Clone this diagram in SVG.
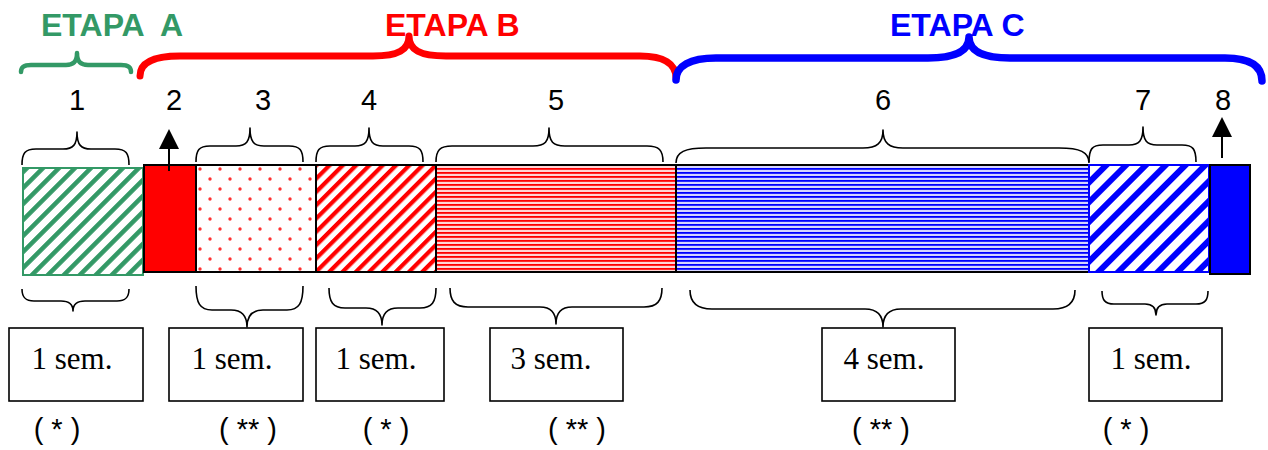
<svg xmlns="http://www.w3.org/2000/svg" width="1268" height="450" viewBox="0 0 1268 450">
<style>
.stage{font-family:"Liberation Sans",Arial,sans-serif;font-weight:bold;font-size:32px}
.num{font-family:"Liberation Sans",Arial,sans-serif;font-size:29px;text-anchor:middle;fill:#000}
.note{font-family:"Liberation Sans",Arial,sans-serif;font-size:29px;text-anchor:middle;fill:#000}
.dur{font-family:"Liberation Serif","Times New Roman",serif;font-size:31px;text-anchor:middle;fill:#000}
.brace{fill:none;stroke:#000;stroke-width:1.6;stroke-linejoin:round}
.bigbrace{fill:none;stroke-linecap:round;stroke-linejoin:round}
.box{fill:#fff;stroke:#000;stroke-width:1.6}
.seg{stroke:#000;stroke-width:2}
.arrow{stroke:#000;stroke-width:2;fill:none}
</style>
<defs>
<pattern id="pGreen" patternUnits="userSpaceOnUse" width="11.3" height="20" patternTransform="rotate(45)">
<rect width="11.3" height="20" fill="#fff"/><rect x="0" width="4.6" height="20" fill="#339966"/>
</pattern>
<pattern id="pRedDiag" patternUnits="userSpaceOnUse" width="9.4" height="20" patternTransform="rotate(45)">
<rect width="9.4" height="20" fill="#fff"/><rect x="0" width="4.2" height="20" fill="#ff0000"/>
</pattern>
<pattern id="pBlueDiag" patternUnits="userSpaceOnUse" width="14" height="20" patternTransform="rotate(45)">
<rect width="14" height="20" fill="#fff"/><rect x="0" width="6" height="20" fill="#0000ff"/>
</pattern>
<pattern id="pDots" patternUnits="userSpaceOnUse" x="196" y="164" width="20" height="20">
<rect width="20" height="20" fill="#fff"/>
<circle cx="4" cy="5" r="1.7" fill="#ff3030"/>
<circle cx="14" cy="15" r="1.7" fill="#ff3030"/>
</pattern>
<pattern id="pRedH" patternUnits="userSpaceOnUse" width="20" height="4">
<rect width="20" height="4" fill="#ffd6d6"/><rect y="0" width="20" height="1.8" fill="#ff0000"/>
</pattern>
<pattern id="pBlueH" patternUnits="userSpaceOnUse" width="20" height="4">
<rect width="20" height="4" fill="#d6d6ff"/><rect y="0" width="20" height="1.8" fill="#0000ff"/>
</pattern>
<marker id="head" markerUnits="userSpaceOnUse" markerWidth="20" markerHeight="20" refX="0" refY="10" orient="auto">
<path d="M0,0 L20,10 L0,20 z" fill="#000"/>
</marker>
</defs>
<rect width="1268" height="450" fill="#fff"/>

<g id="etapa-a">
<path class="bigbrace" stroke="#339966" stroke-width="4.5" d="M21,72 C21,67 24,65 31,65 L66,65 C73,65 77,62 77,53 C77,62 81,65 88,65 L121,65 C128,65 131,67 131,72"/>
<text class="stage" x="41" y="36" fill="#339966" xml:space="preserve">ETAPA  A</text>
</g>
<g id="etapa-b">
<path class="bigbrace" stroke="#ff0000" stroke-width="7" d="M140,76 C140,63 153,56 180,56 L373,56 C398,56 409,50 409,36 C409,50 420,56 446,56 L640,56 C664,56 676,64 676,78"/>
<text class="stage" x="385" y="36" fill="#ff0000">ETAPA B</text>
</g>
<g id="etapa-c">
<path class="bigbrace" stroke="#0000ff" stroke-width="7.5" d="M676,80 C676,66 690,58 716,58 L928,58 C955,58 969,51 969,37 C969,51 983,58 1010,58 L1225,58 C1250,58 1262,66 1262,81"/>
<text class="stage" x="890" y="36" fill="#0000ff">ETAPA C</text>
</g>

<g id="seg1">
<rect x="23" y="168" width="120" height="107" fill="url(#pGreen)" stroke="#339966" stroke-width="2"/>
<text class="num" x="77" y="110">1</text>
<path class="brace" d="M22,165 C22,153 25,149 36,149 L63,149 C73,149 77,145 77,132 C77,145 81,149 91,149 L115,149 C126,149 129,153 129,165"/>
<path class="brace" d="M22,289 C22,297 25,301 34,301 L61,301 C69,301 73,304 73,311 C73,304 77,301 85,301 L117,301 C126,301 129,297 129,289"/>
<rect class="box" x="9" y="328" width="134" height="73"/>
<text class="dur" x="72" y="369">1 sem.</text>
<text class="note" x="57" y="439" xml:space="preserve">( * )</text>
</g>
<g id="seg2">
<rect class="seg" x="144" y="165" width="52" height="107" fill="#ff0000"/>
<text class="num" x="174" y="110">2</text>
</g>
<g id="seg3">
<rect class="seg" x="196" y="165" width="120" height="107" fill="url(#pDots)"/>
<text class="num" x="263" y="110">3</text>
<path class="brace" d="M196,162 C196,150 199,146 210,146 L236,146 C246,146 250,142 250,128 C250,142 254,146 264,146 L289,146 C300,146 303,150 303,162"/>
<path class="brace" d="M196,286 C196,303 200,310 212,310 L231,310 C242,310 247,316 247,327 C247,316 252,310 263,310 L287,310 C299,310 303,303 303,286"/>
<rect class="box" x="169" y="328" width="134" height="73"/>
<text class="dur" x="232" y="369">1 sem.</text>
<text class="note" x="248" y="439" xml:space="preserve">( ** )</text>
</g>
<g id="seg4">
<rect class="seg" x="316" y="165" width="120" height="107" fill="url(#pRedDiag)"/>
<text class="num" x="369" y="110">4</text>
<path class="brace" d="M316,162 C316,150 319,146 330,146 L355,146 C365,146 369,142 369,128 C369,142 373,146 383,146 L409,146 C420,146 423,150 423,162"/>
<path class="brace" d="M329,288 C329,302 333,308 345,308 L366,308 C377,308 382,314 382,325 C382,314 387,308 398,308 L420,308 C432,308 436,302 436,288"/>
<rect class="box" x="316" y="328" width="128" height="73"/>
<text class="dur" x="376" y="369">1 sem.</text>
<text class="note" x="386" y="439" xml:space="preserve">( * )</text>
</g>
<g id="seg5">
<rect class="seg" x="436" y="165" width="240" height="107" fill="url(#pRedH)"/>
<text class="num" x="556" y="110">5</text>
<path class="brace" d="M436,162 C436,150 440,146 452,146 L533,146 C545,146 549,142 549,128 C549,142 553,146 565,146 L647,146 C659,146 663,150 663,162"/>
<path class="brace" d="M450,288 C450,301 455,307 468,307 L540,307 C551,307 556,313 556,324 C556,313 561,307 572,307 L644,307 C657,307 662,301 662,288"/>
<rect class="box" x="490" y="328" width="133" height="73"/>
<text class="dur" x="551" y="369">3 sem.</text>
<text class="note" x="577" y="439" xml:space="preserve">( ** )</text>
</g>
<g id="seg6">
<rect class="seg" x="676" y="165" width="413" height="107" fill="url(#pBlueH)"/>
<text class="num" x="883" y="110">6</text>
<path class="brace" d="M676,163 C676,152 685,148 706,148 L863,148 C877,148 883,143 883,130 C883,143 889,148 903,148 L1059,148 C1080,148 1089,152 1089,163"/>
<path class="brace" d="M690,290 C690,303 697,309 712,309 L865,309 C877,309 883,315 883,327 C883,315 889,309 901,309 L1053,309 C1068,309 1075,303 1075,290"/>
<rect class="box" x="822" y="328" width="133" height="73"/>
<text class="dur" x="884" y="369">4 sem.</text>
<text class="note" x="881" y="439" xml:space="preserve">( ** )</text>
</g>
<g id="seg7">
<rect x="1089" y="165" width="120" height="107" fill="url(#pBlueDiag)" stroke="#0000ff" stroke-width="2"/>
<text class="num" x="1143" y="110">7</text>
<path class="brace" d="M1089,162 C1089,149 1092,145 1103,145 L1129,145 C1139,145 1143,141 1143,127 C1143,141 1147,145 1157,145 L1182,145 C1193,145 1196,149 1196,162"/>
<path class="brace" d="M1102,291 C1102,300 1105,304 1114,304 L1145,304 C1152,304 1156,308 1156,315 C1156,308 1160,304 1167,304 L1196,304 C1205,304 1208,300 1208,291"/>
<rect class="box" x="1089" y="328" width="133" height="73"/>
<text class="dur" x="1151" y="369">1 sem.</text>
<text class="note" x="1126" y="439" xml:space="preserve">( * )</text>
</g>
<g id="seg8">
<rect class="seg" x="1210" y="165" width="40" height="109" fill="#0000ff"/>
<text class="num" x="1223" y="110">8</text>
</g>

<g id="connectors">
<line class="arrow" x1="169" y1="171" x2="169" y2="149" marker-end="url(#head)"/>
<line class="arrow" x1="1222" y1="158" x2="1222" y2="137" marker-end="url(#head)"/>
</g>
</svg>
